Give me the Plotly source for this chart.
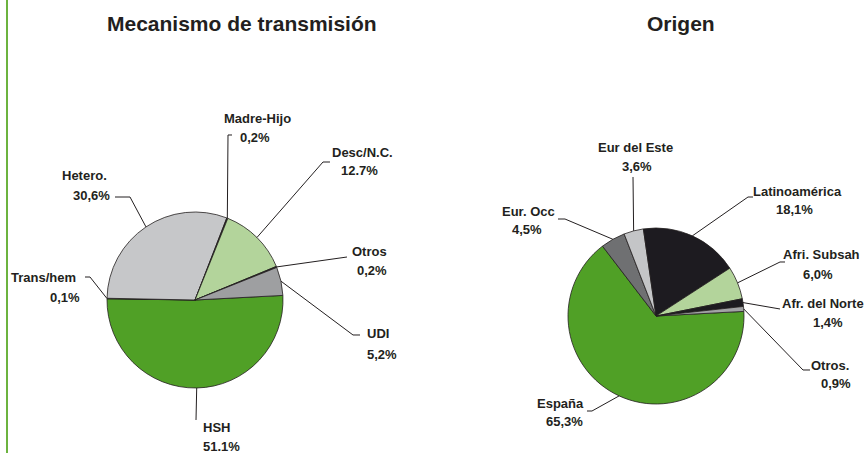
import math
import plotly.graph_objects as go

W, H = 864, 453

# --- data ---
mech_labels = ['HSH', 'Trans/hem', 'Hetero.', 'Madre-Hijo', 'Desc/N.C.', 'Otros', 'UDI']
mech_values = [51.1, 0.1, 30.6, 0.2, 12.7, 0.2, 5.2]
mech_text = ['51.1%', '0,1%', '30,6%', '0,2%', '12.7%', '0,2%', '5,2%']

orig_labels = ['España', 'Eur. Occ', 'Eur del Este', 'Latinoamérica', 'Afri. Subsah', 'Afr. del Norte', 'Otros.']
orig_values = [65.3, 4.5, 3.6, 18.1, 6.0, 1.4, 0.9]
orig_text = ['65,3%', '4,5%', '3,6%', '18,1%', '6,0%', '1,4%', '0,9%']

# --- styles ---
INK = '#231f20'
mech_colors = ['#50a026', INK, '#c6c7c9', INK, '#b3d49b', INK, '#9e9fa1']
orig_colors = ['#50a026', '#6f7072', '#c4c5c7', '#1d1b20', '#b3d49b', '#1d1b20', '#a2a3a5']

ROTATION = 87
RADIUS = 88
pies = [
    dict(labels=mech_labels, values=mech_values, text=mech_text, colors=mech_colors,
         center=(195, 300), title='Mecanismo de transmisión', title_x=242,
         # label layout in pixels: name xy, pct xy, leader points after the slice edge
         place=[((217, 427), (221, 446), [(196, 420)]),
                ((43, 277), (65, 297), [(90, 277), (85, 277)]),
                ((84, 175), (91, 195), [(130, 197), (115, 197)]),
                ((257, 118), (255, 137), [(228, 135), (232, 135)]),
                ((362, 153), (359, 171), [(323, 162), (330, 162)]),
                ((369, 251), (372, 270), [(347, 257)]),
                ((378, 333), (382, 354), [(353, 335), (360, 335)])]),
    dict(labels=orig_labels, values=orig_values, text=orig_text, colors=orig_colors,
         center=(656, 316), title='Origen', title_x=681,
         place=[((560, 403), (564, 421), [(592, 411), (587, 411)]),
                ((528, 212), (527, 229), [(565, 219), (558, 219)]),
                ((635, 147), (637, 166), [(633, 177)]),
                ((797, 192), (794, 209), [(748, 197), (753, 197)]),
                ((821, 254), (818, 274), [(780, 262), (785, 262)]),
                ((823, 303), (828, 322), [(780, 309)]),
                ((830, 365), (836, 383), [(803, 370), (810, 370)])]),
]


def px(x):
    return x / W


def py(y):
    return 1 - y / H


fig = go.Figure()
annotations = []
shapes = []
lab_font = dict(family='Liberation Sans', size=13, color=INK, weight='bold')


def add_text(x, y, text, font):
    annotations.append(dict(x=px(x), y=py(y), xref='paper', yref='paper',
                            xanchor='center', yanchor='middle',
                            text=text, showarrow=False, font=font))


for p in pies:
    cx, cy = p['center']
    fig.add_trace(go.Pie(
        labels=p['labels'], values=p['values'],
        sort=False, direction='clockwise', rotation=ROTATION,
        textinfo='none', hoverinfo='label+percent',
        marker=dict(colors=p['colors'], line=dict(color=INK, width=0.8)),
        domain=dict(x=[px(cx - RADIUS), px(cx + RADIUS)],
                    y=[py(cy + RADIUS), py(cy - RADIUS)]),
        showlegend=False,
    ))
    add_text(p['title_x'], 23, p['title'],
             dict(family='Liberation Sans', size=21, color=INK, weight='bold'))

    total = sum(p['values'])
    cum = 0
    for v, name, pct, (npos, ppos, pts) in zip(p['values'], p['labels'], p['text'], p['place']):
        mid = ROTATION + 360 * (cum + v / 2) / total
        cum += v
        a = math.radians(mid)
        sx, sy = cx + RADIUS * math.sin(a), cy - RADIUS * math.cos(a)
        path = 'M %f,%f' % (px(sx), py(sy))
        for (x, y) in pts:
            path += ' L %f,%f' % (px(x), py(y))
        shapes.append(dict(type='path', path=path, xref='paper', yref='paper',
                           line=dict(color=INK, width=1)))
        add_text(npos[0], npos[1], name, lab_font)
        add_text(ppos[0], ppos[1], pct, lab_font)

# green rule at the left edge
shapes.append(dict(type='line', x0=px(7), x1=px(7), y0=0, y1=1, xref='paper', yref='paper',
                   line=dict(color='#6cb33f', width=2)))

fig.update_layout(
    width=W, height=H,
    margin=dict(l=0, r=0, t=0, b=0),
    paper_bgcolor='white',
    plot_bgcolor='white',
    annotations=annotations,
    shapes=shapes,
)

fig.write_html("out.html", config={'displayModeBar': False},
               post_script="document.body.style.margin='0';")
